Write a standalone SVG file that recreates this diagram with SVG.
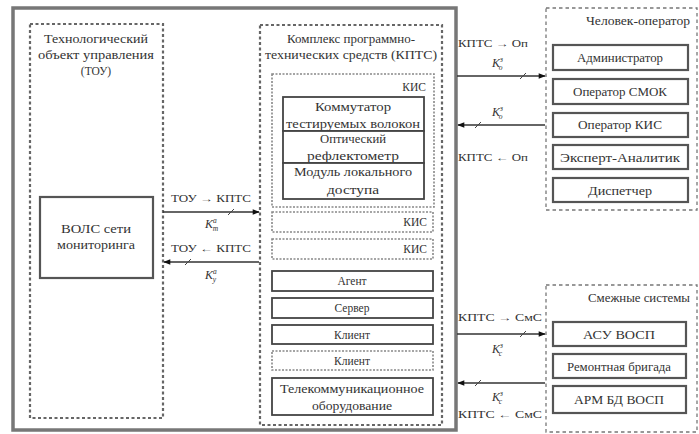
<svg xmlns="http://www.w3.org/2000/svg" width="699" height="434" viewBox="0 0 699 434" font-family="'Liberation Serif', 'DejaVu Serif', serif">
<defs>
<style>
text{font-family:'Liberation Serif','DejaVu Serif',serif;font-size:11.5px;fill:#333;}
.c{text-anchor:middle;}
.r{text-anchor:end;}
.outer{fill:none;stroke:#777;stroke-width:3.5;}
.grp{fill:none;stroke:#666;stroke-width:2.2;stroke-dasharray:3 2.5;}
.grp2{fill:none;stroke:#777;stroke-width:1.3;stroke-dasharray:3.5 3;}
.kis{fill:none;stroke:#888;stroke-width:1.6;stroke-dasharray:2 1.5;}
.box{fill:#fff;stroke:#444;stroke-width:1.8;}
.box2{fill:#fff;stroke:#555;stroke-width:2.2;}
.line{fill:none;stroke:#333;stroke-width:1.3;}
.tick{fill:none;stroke:#444;stroke-width:1;}
.k{font-style:italic;font-size:12px;}
.s{font-size:7.5px;font-style:italic;}
.sm{font-size:10px;}
</style>
<marker id="ah" viewBox="0 0 10 10" refX="9" refY="5" markerWidth="9" markerHeight="7" orient="auto-start-reverse" markerUnits="userSpaceOnUse">
<path d="M0,1 L10,5 L0,9 Z" fill="#111"/>
</marker>
</defs>
<rect x="0" y="0" width="699" height="434" fill="#fff"/>
<rect class="outer" x="13" y="8" width="443" height="422"/>

<g id="tou">
<rect class="grp" x="30" y="24" width="133" height="394"/>
<text class="c" x="96" y="43" textLength="104" lengthAdjust="spacingAndGlyphs">Технологический</text>
<text class="c" x="96" y="59" textLength="116" lengthAdjust="spacingAndGlyphs">объект управления</text>
<text class="c" x="96" y="75">(ТОУ)</text>
</g>
<g id="vols">
<rect class="box2" x="40" y="197" width="113" height="81"/>
<text class="c" x="96" y="233" textLength="70" lengthAdjust="spacingAndGlyphs">ВОЛС сети</text>
<text class="c" x="96" y="249" textLength="78" lengthAdjust="spacingAndGlyphs">мониторинга</text>
</g>

<g id="kpts">
<rect class="grp" x="260" y="25" width="182" height="400"/>
<text class="c" x="351" y="43" textLength="128" lengthAdjust="spacingAndGlyphs">Комплекс программно-</text>
<text class="c" x="351" y="59" textLength="172" lengthAdjust="spacingAndGlyphs">технических средств (КПТС)</text>
</g>
<g id="kis1">
<rect class="kis" x="272" y="74" width="162" height="133"/>
<text class="r" x="426" y="91">КИС</text>
</g>
<g id="kommutator">
<rect class="box" x="283" y="97" width="141" height="34"/>
<text class="c" x="353" y="111" textLength="76" lengthAdjust="spacingAndGlyphs">Коммутатор</text>
<text class="c" x="353" y="128" textLength="134" lengthAdjust="spacingAndGlyphs">тестируемых волокон</text>
</g>
<g id="reflectometer">
<rect class="box" x="283" y="131" width="141" height="32"/>
<text class="c" x="353" y="143" textLength="66" lengthAdjust="spacingAndGlyphs">Оптический</text>
<text class="c" x="353" y="160" textLength="92" lengthAdjust="spacingAndGlyphs">рефлектометр</text>
</g>
<g id="modul">
<rect class="box" x="283" y="163" width="141" height="36"/>
<text class="c" x="353" y="176" textLength="118" lengthAdjust="spacingAndGlyphs">Модуль локального</text>
<text class="c" x="353" y="194" textLength="52" lengthAdjust="spacingAndGlyphs">доступа</text>
</g>
<g id="kis2">
<rect class="kis" x="272" y="212" width="161" height="20"/>
<text class="r" x="427" y="226">КИС</text>
</g>
<g id="kis3">
<rect class="kis" x="272" y="239" width="161" height="20"/>
<text class="r" x="427" y="253">КИС</text>
</g>
<g id="agent">
<rect class="box" x="272" y="271" width="161" height="20"/>
<text class="c" x="352" y="285">Агент</text>
</g>
<g id="server">
<rect class="box" x="272" y="298" width="161" height="20"/>
<text class="c" x="352" y="312">Сервер</text>
</g>
<g id="client1">
<rect class="box" x="272" y="325" width="161" height="19"/>
<text class="c" x="352" y="339">Клиент</text>
</g>
<g id="client2">
<rect class="kis" x="272" y="351" width="161" height="19"/>
<text class="c" x="352" y="365">Клиент</text>
</g>
<g id="telecom">
<rect class="box" x="272" y="378" width="161" height="37"/>
<text class="c" x="352" y="393" textLength="144" lengthAdjust="spacingAndGlyphs">Телекоммуникационное</text>
<text class="c" x="352" y="410" textLength="80" lengthAdjust="spacingAndGlyphs">оборудование</text>
</g>

<g id="operator">
<rect class="grp2" x="546" y="8" width="151" height="202"/>
<text class="r" x="690" y="25" textLength="104" lengthAdjust="spacingAndGlyphs">Человек-оператор</text>
</g>
<g id="admin"><rect class="box2" x="553" y="45" width="135" height="25"/><text class="c" x="620" y="62" textLength="86" lengthAdjust="spacingAndGlyphs">Администратор</text></g>
<g id="smok"><rect class="box2" x="553" y="79" width="135" height="25"/><text class="c" x="620" y="96" textLength="94" lengthAdjust="spacingAndGlyphs">Оператор СМОК</text></g>
<g id="opkis"><rect class="box2" x="553" y="113" width="135" height="24"/><text class="c" x="620" y="129" textLength="84" lengthAdjust="spacingAndGlyphs">Оператор КИС</text></g>
<g id="expert"><rect class="box2" x="553" y="145" width="135" height="24"/><text class="c" x="620" y="162" textLength="120" lengthAdjust="spacingAndGlyphs">Эксперт-Аналитик</text></g>
<g id="dispatcher"><rect class="box2" x="553" y="178" width="135" height="24"/><text class="c" x="620" y="195" textLength="64" lengthAdjust="spacingAndGlyphs">Диспетчер</text></g>

<g id="smezh">
<rect class="grp2" x="546" y="285" width="151" height="147"/>
<text class="r" x="690" y="302" textLength="102" lengthAdjust="spacingAndGlyphs">Смежные системы</text>
</g>
<g id="asu"><rect class="box2" x="553" y="322" width="133" height="24"/><text class="c" x="619" y="339" textLength="72" lengthAdjust="spacingAndGlyphs">АСУ ВОСП</text></g>
<g id="remont"><rect class="box2" x="553" y="354" width="133" height="24"/><text class="c" x="619" y="371" textLength="104" lengthAdjust="spacingAndGlyphs">Ремонтная бригада</text></g>
<g id="arm"><rect class="box2" x="553" y="386" width="133" height="27"/><text class="c" x="619" y="404" textLength="90" lengthAdjust="spacingAndGlyphs">АРМ БД ВОСП</text></g>

<g id="connectors">
<line class="line" x1="163" y1="212" x2="259" y2="212" marker-end="url(#ah)"/>
<path class="tick" d="M228,215 L234,209"/>
<text class="c sm" x="211" y="202" textLength="80" lengthAdjust="spacingAndGlyphs">ТОУ → КПТС</text>
<text class="k" x="205" y="228">K<tspan class="s" dy="-5">а</tspan><tspan class="s" dx="-4" dy="8">т</tspan></text>

<line class="line" x1="259" y1="262" x2="164" y2="262" marker-end="url(#ah)"/>
<path class="tick" d="M185,265 L191,259"/>
<text class="c sm" x="211" y="252" textLength="80" lengthAdjust="spacingAndGlyphs">ТОУ ← КПТС</text>
<text class="k" x="205" y="279">K<tspan class="s" dy="-5">а</tspan><tspan class="s" dx="-4" dy="8">у</tspan></text>

<line class="line" x1="457" y1="76" x2="545" y2="76" marker-end="url(#ah)"/>
<path class="tick" d="M520,79 L526,73"/>
<text class="c sm" x="493" y="47" textLength="70" lengthAdjust="spacingAndGlyphs">КПТС → Оп</text>
<text class="k" x="492" y="67">K<tspan class="s" dy="-5">з</tspan><tspan class="s" dx="-4" dy="8">о</tspan></text>

<line class="line" x1="545" y1="125" x2="458" y2="125" marker-end="url(#ah)"/>
<path class="tick" d="M475,128 L481,122"/>
<text class="k" x="492" y="116">K<tspan class="s" dy="-5">з</tspan><tspan class="s" dx="-4" dy="8">о</tspan></text>
<text class="c sm" x="493" y="161" textLength="70" lengthAdjust="spacingAndGlyphs">КПТС ← Оп</text>

<line class="line" x1="457" y1="334" x2="545" y2="334" marker-end="url(#ah)"/>
<path class="tick" d="M520,337 L526,331"/>
<text class="c sm" x="500" y="321" textLength="84" lengthAdjust="spacingAndGlyphs">КПТС → СмС</text>
<text class="k" x="492" y="353">K<tspan class="s" dy="-5">з</tspan><tspan class="s" dx="-4" dy="8">с</tspan></text>

<line class="line" x1="545" y1="383" x2="458" y2="383" marker-end="url(#ah)"/>
<path class="tick" d="M475,386 L481,380"/>
<text class="k" x="492" y="401">K<tspan class="s" dy="-5">з</tspan><tspan class="s" dx="-4" dy="8">с</tspan></text>
<text class="c sm" x="500" y="418" textLength="84" lengthAdjust="spacingAndGlyphs">КПТС ← СмС</text>
</g>
</svg>
